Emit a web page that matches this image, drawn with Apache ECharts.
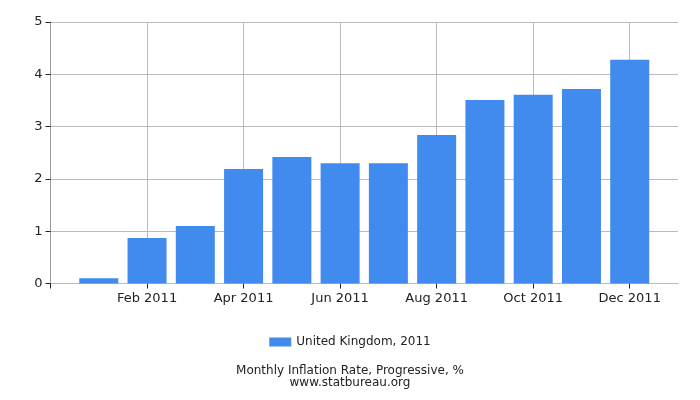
<!DOCTYPE html>
<html><head><meta charset="utf-8">
<script src="https://cdn.jsdelivr.net/npm/echarts@6/dist/echarts.min.js"></script>
<style>html,body{margin:0;padding:0;background:#fff}#c{width:700px;height:400px}</style>
</head><body><div id="c"></div>
<script>
const months = ['Jan 2011','Feb 2011','Mar 2011','Apr 2011','May 2011','Jun 2011','Jul 2011','Aug 2011','Sep 2011','Oct 2011','Nov 2011','Dec 2011'];
const values = [0.10, 0.87, 1.10, 2.19, 2.42, 2.30, 2.30, 2.84, 3.51, 3.61, 3.72, 4.28];
const yTicks = [0, 1, 2, 3, 4, 5];
const seriesName = 'United Kingdom, 2011';
const titleText = 'Monthly Inflation Rate, Progressive, %';
const subText = 'www.statbureau.org';

const font = 'DejaVu Sans';
const chart = echarts.init(document.getElementById('c'), null, {renderer: 'canvas'});
chart.setOption({
  animation: false,
  textStyle: {fontFamily: font},
  grid: {left: 50.5, right: 22, top: 22, bottom: 116.5, containLabel: false},
  title: {
    text: titleText, subtext: subText, left: 'center', top: 365, itemGap: 0,
    textStyle: {fontFamily: font, fontSize: 12, fontWeight: 'normal', color: '#222', lineHeight: 11},
    subtextStyle: {fontFamily: font, fontSize: 12, color: '#222', lineHeight: 11},
    padding: 0
  },
  legend: {
    data: [seriesName], left: 'center', top: 331, itemWidth: 22, itemHeight: 9, itemGap: 5,
    textStyle: {fontFamily: font, fontSize: 12, color: '#222'}, icon: 'rect'
  },
  xAxis: {
    type: 'value', min: 0, max: 13, interval: 2,
    axisLine: {show: true, lineStyle: {color: '#bbb'}},
    axisTick: {show: true, length: 5, lineStyle: {color: '#222'}, customValues: [0,2,4,6,8,10,12]},
    axisLabel: {
      customValues: [2,4,6,8,10,12],
      formatter: v => months[v - 1] || '',
      color: '#222', fontSize: 13, fontFamily: font, margin: 9
    },
    splitLine: {show: true, lineStyle: {color: '#bbb'}}
  },
  yAxis: {
    type: 'value', min: yTicks[0], max: yTicks[yTicks.length - 1], interval: 1,
    axisLine: {show: true, lineStyle: {color: '#999'}},
    axisTick: {show: true, length: 5, lineStyle: {color: '#222'}},
    axisLabel: {color: '#222', fontSize: 13, fontFamily: font, margin: 8},
    splitLine: {show: true, lineStyle: {color: '#bbb'}}
  },
  series: [{
    name: seriesName, type: 'bar', barWidth: 39,
    itemStyle: {color: '#428bee'},
    data: values.map((v, i) => [i + 1, v])
  }]
});
</script></body></html>
